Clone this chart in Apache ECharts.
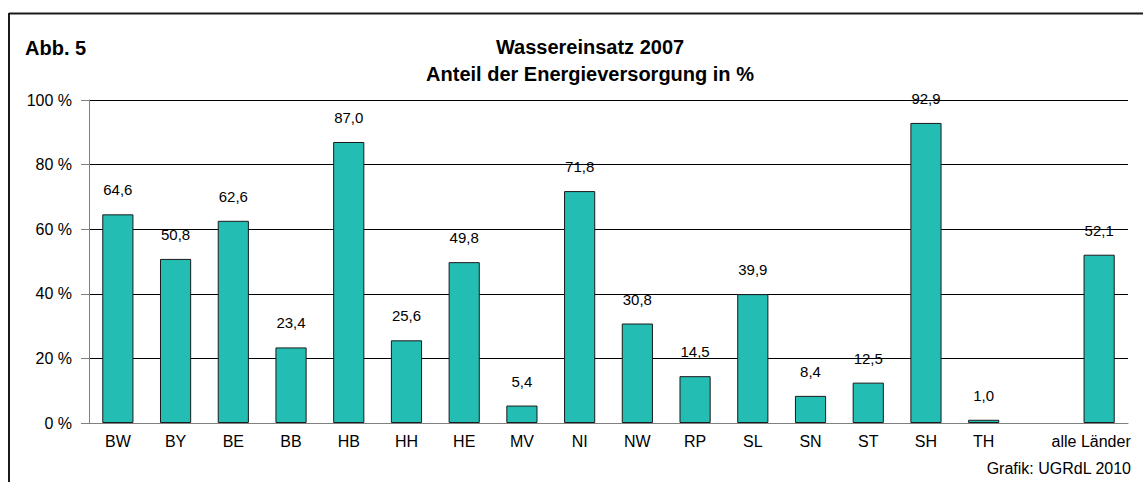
<!DOCTYPE html>
<html>
<head>
<meta charset="utf-8">
<script src="https://cdn.jsdelivr.net/npm/echarts@6/dist/echarts.min.js"></script>
<style>
html,body{margin:0;padding:0;background:#fff;}
#chart{width:1143px;height:482px;}
</style>
</head>
<body>
<div id="chart"></div>
<script>
const categories = ['BW','BY','BE','BB','HB','HH','HE','MV','NI','NW','RP','SL','SN','ST','SH','TH','','alle Länder'];
const values = [64.6,50.8,62.6,23.4,87.0,25.6,49.8,5.4,71.8,30.8,14.5,39.9,8.4,12.5,92.9,1.0,null,52.1];
const yTicks = [0,20,40,60,80,100];
const titleLine1 = 'Wassereinsatz 2007';
const titleLine2 = 'Anteil der Energieversorgung in %';
const figLabel = 'Abb. 5';
const sourceNote = 'Grafik: UGRdL 2010';

const font = 'Arial, "Liberation Sans", sans-serif';
const catData = categories.map(function(c, i){
  return i === categories.length - 1 ? {value:c, textStyle:{padding:[0,16,0,0]}} : c;
});
const chart = echarts.init(document.getElementById('chart'), null, {renderer:'svg'});
chart.setOption({
  animation:false,
  backgroundColor:'#fff',
  grid:{left:89,right:15,top:100,bottom:59},
  graphic:[
    {type:'line',shape:{x1:9,y1:13.5,x2:1143,y2:13.5},style:{stroke:'#1a1a1a',lineWidth:2}},
    {type:'line',shape:{x1:9,y1:13,x2:9,y2:482},style:{stroke:'#1a1a1a',lineWidth:2}},
    {type:'text',x:25,y:48,style:{text:figLabel,font:'bold 20px '+font,fill:'#000',textAlign:'left',textVerticalAlign:'middle'}},
    {type:'text',x:590,y:47,style:{text:titleLine1,font:'bold 20px '+font,fill:'#000',textAlign:'center',textVerticalAlign:'middle'}},
    {type:'text',x:590,y:74,style:{text:titleLine2,font:'bold 20px '+font,fill:'#000',textAlign:'center',textVerticalAlign:'middle'}},
    {type:'text',x:1131,y:468,style:{text:sourceNote,font:'16px '+font,fill:'#000',textAlign:'right',textVerticalAlign:'middle'}}
  ],
  xAxis:{
    type:'category',
    data:catData,
    axisLine:{lineStyle:{color:'#808080',width:1}},
    axisTick:{show:false},
    axisLabel:{color:'#000',fontSize:16,fontFamily:font,margin:10,interval:0}
  },
  yAxis:{
    type:'value',min:0,max:100,interval:20,
    axisLine:{show:true,lineStyle:{color:'#808080'}},
    axisTick:{show:true,length:8,lineStyle:{color:'#808080'}},
    axisLabel:{color:'#000',fontSize:16,fontFamily:font,margin:17,
      formatter:function(v){return yTicks.includes(v)? v+' %':'';}},
    splitLine:{show:true,lineStyle:{color:'#000',width:1}}
  },
  series:[{
    type:'bar',
    data:values,
    barWidth:'54%',
    itemStyle:{color:'#24BDB4',borderColor:'#1a1a1a',borderWidth:1},
    label:{show:true,position:'top',distance:17,color:'#000',fontSize:15,fontFamily:font,
      formatter:function(p){return p.value==null?'':p.value.toFixed(1).replace('.',',');}}
  }]
});
</script>
</body>
</html>
